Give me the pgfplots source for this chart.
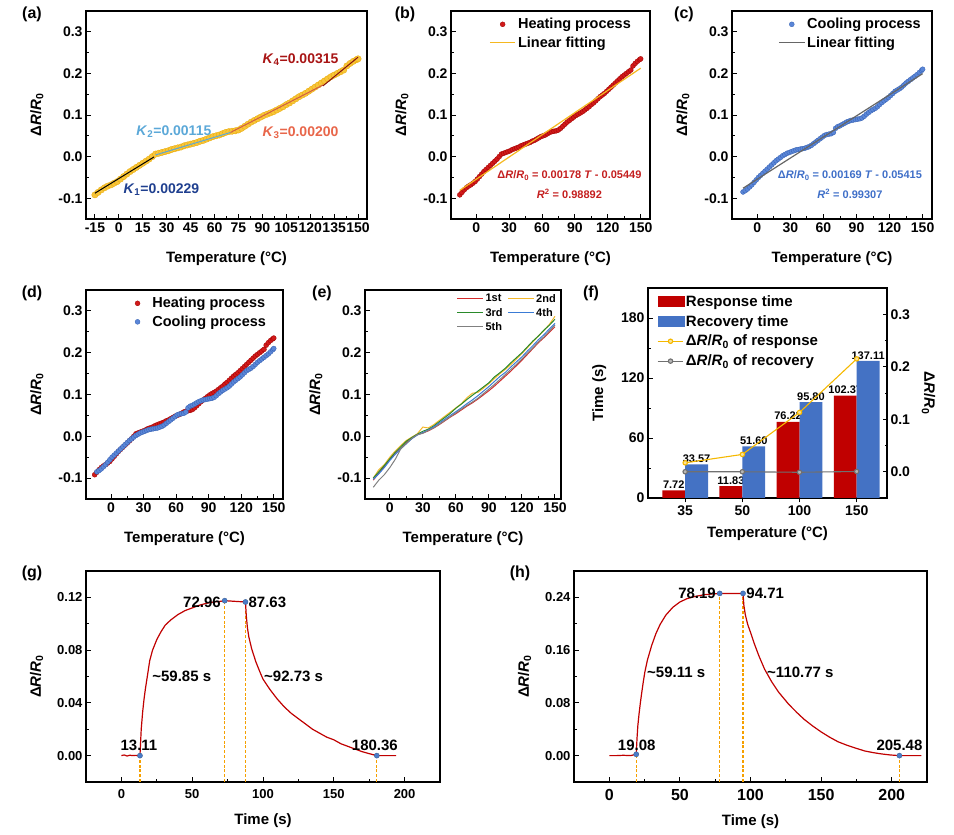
\documentclass[border=0pt]{standalone}
\usepackage{fontspec}
\setmainfont{Liberation Sans}
\usepackage{pgfplots}
\usepackage{pgfplotstable}
\pgfplotsset{compat=1.18}

\definecolor{heatfill}{HTML}{D11A1A}
\definecolor{heatdraw}{HTML}{9E0000}
\definecolor{coolfill}{HTML}{5A86D8}
\definecolor{cooldraw}{HTML}{3560B0}
\definecolor{ayel}{HTML}{F8C53A}
\definecolor{ayeld}{HTML}{E8A800}
\definecolor{fityel}{HTML}{F5B820}
\definecolor{fitgray}{HTML}{666666}
\definecolor{kone}{HTML}{1F3F8F}
\definecolor{ktwo}{HTML}{5BA8D8}
\definecolor{kthree}{HTML}{E8664A}
\definecolor{kfour}{HTML}{A81414}
\definecolor{eqred}{HTML}{C41E1E}
\definecolor{eqblue}{HTML}{3F6FC8}
\definecolor{ered}{HTML}{D42A2A}
\definecolor{eyel}{HTML}{F5B82A}
\definecolor{egreen}{HTML}{2A8A2A}
\definecolor{eblue}{HTML}{3A7BD5}
\definecolor{egray}{HTML}{808080}
\definecolor{barred}{HTML}{C00000}
\definecolor{barblue}{HTML}{4472C4}
\definecolor{fline}{HTML}{F5B800}
\definecolor{fgray}{HTML}{707070}
\definecolor{curve}{HTML}{C00000}
\definecolor{dashor}{HTML}{F5A000}
\definecolor{mblue}{HTML}{4A7CC8}

\pgfplotsset{
 myax/.style={
  scale only axis, anchor=south west,
  clip marker paths=true,
  axis line style={line width=1.1pt},
  tick align=inside, xtick pos=left, ytick pos=left,
  major tick length=4.5pt, minor tick length=2.5pt,
  every tick/.append style={line width=0.9pt, black},
  minor x tick num=1, minor y tick num=1,
  tick label style={font=\fontsize{14}{14}\selectfont},
  label style={font=\fontsize{15}{15}\selectfont},
  xlabel style={yshift=-12pt},
  ylabel style={yshift=8pt},
  /pgf/number format/assume math mode=true,
  legend style={draw=none, fill=none, font=\fontsize{14.5}{17}\selectfont, /tikz/row sep=2.5pt},
  legend cell align=left,
  legend image code/.code={\draw[mark repeat=2,mark phase=2,##1] plot coordinates {(0cm,0cm) (0.45cm,0cm) (0.9cm,0cm)};},
 },
 tempax/.style={
  xmin=-23, xmax=158.5, ymin=-0.15, ymax=0.35,
  xtick={0,30,...,150}, ytick={-0.1,0,0.1,0.2,0.3},
  yticklabel style={/pgf/number format/.cd,fixed,fixed zerofill,precision=1},
  xlabel={Temperature (°C)},
  ylabel={Δ\textit{R}/\textit{R}\textsubscript{0}},
 },
 heatmarks/.style={only marks, mark=*, mark size=2.5pt, mark options={fill=heatfill, draw=heatdraw, line width=0.3pt},
   legend image code/.code={\path[draw=none,fill=none] (0cm,0cm) rectangle (0.9cm,0.01cm); \draw[mark repeat=2,mark phase=2,##1] plot coordinates {(0cm,0cm) (0.45cm,0cm) (0.9cm,0cm)};}},
 coolmarks/.style={only marks, mark=*, mark size=2.5pt, mark options={fill=coolfill, draw=cooldraw, line width=0.3pt},
   legend image code/.code={\path[draw=none,fill=none] (0cm,0cm) rectangle (0.9cm,0.01cm); \draw[mark repeat=2,mark phase=2,##1] plot coordinates {(0cm,0cm) (0.45cm,0cm) (0.9cm,0cm)};}},
 dashv/.style={dashor, dash pattern=on 3pt off 1.8pt, line width=1.25pt},
}

\pgfplotstableread{
T y
-15 -0.092
-13 -0.086
-11 -0.080
-9 -0.075
-7 -0.071
-5 -0.068
-3 -0.064
-1 -0.060
1 -0.054
3 -0.048
5 -0.042
7 -0.036
9 -0.031
11 -0.026
13 -0.021
15 -0.016
17 -0.011
19 -0.006
21 0.000
23 0.006
25 0.008
27 0.010
29 0.012
31 0.014
33 0.017
35 0.019
37 0.021
39 0.023
41 0.026
43 0.028
45 0.030
47 0.032
49 0.034
51 0.037
53 0.039
55 0.042
57 0.045
59 0.048
61 0.050
63 0.052
65 0.055
67 0.058
69 0.060
71 0.061
73 0.062
75 0.064
77 0.068
79 0.073
81 0.078
83 0.083
85 0.087
87 0.091
89 0.095
91 0.099
93 0.102
95 0.105
97 0.108
99 0.112
101 0.116
103 0.120
105 0.125
107 0.129
109 0.134
111 0.139
113 0.144
115 0.148
117 0.152
119 0.157
121 0.162
123 0.167
125 0.172
127 0.177
129 0.182
131 0.187
133 0.192
135 0.196
137 0.200
139 0.204
141 0.208
143 0.218
145 0.224
147 0.229
149 0.233
150 0.235
}\heating

\pgfplotstableread{
T y
-13 -0.085
-11 -0.082
-9 -0.078
-7 -0.073
-5 -0.068
-3 -0.062
-1 -0.056
1 -0.050
3 -0.045
5 -0.040
7 -0.035
9 -0.030
11 -0.025
13 -0.020
15 -0.015
17 -0.010
19 -0.006
21 -0.002
23 0.002
25 0.005
27 0.008
29 0.010
31 0.012
33 0.014
35 0.016
37 0.017
39 0.018
41 0.019
43 0.020
45 0.022
47 0.024
49 0.027
51 0.031
53 0.035
55 0.039
57 0.043
59 0.047
61 0.051
63 0.053
65 0.054
67 0.055
69 0.058
71 0.068
73 0.072
75 0.074
77 0.077
79 0.080
81 0.083
83 0.085
85 0.087
87 0.088
89 0.089
91 0.090
93 0.091
95 0.093
97 0.097
99 0.102
101 0.106
103 0.110
105 0.113
107 0.116
109 0.120
111 0.125
113 0.130
115 0.134
117 0.138
119 0.142
121 0.147
123 0.152
125 0.157
127 0.160
129 0.163
131 0.167
133 0.172
135 0.177
137 0.181
139 0.185
141 0.189
143 0.193
145 0.197
147 0.202
149 0.207
150 0.210
}\cooling

\pgfplotstableread{
T r y g b k
-15 -0.105 -0.100 -0.100 -0.103 -0.122
-10 -0.088 -0.080 -0.085 -0.090 -0.105
-5 -0.072 -0.068 -0.070 -0.075 -0.092
0 -0.055 -0.050 -0.054 -0.058 -0.075
5 -0.040 -0.035 -0.038 -0.043 -0.055
10 -0.028 -0.022 -0.025 -0.030 -0.030
15 -0.015 -0.010 -0.012 -0.018 -0.017
20 -0.005 -0.002 -0.003 -0.006 -0.005
25 0.004 0.006 0.005 0.003 0.004
30 0.008 0.022 0.012 0.009 0.007
35 0.013 0.020 0.017 0.015 0.014
40 0.020 0.028 0.025 0.023 0.020
45 0.028 0.038 0.035 0.032 0.029
50 0.037 0.048 0.045 0.041 0.038
55 0.046 0.058 0.055 0.050 0.047
60 0.054 0.068 0.067 0.059 0.056
65 0.063 0.078 0.077 0.068 0.065
70 0.072 0.092 0.088 0.078 0.074
75 0.080 0.103 0.098 0.087 0.082
80 0.089 0.105 0.108 0.097 0.091
85 0.099 0.115 0.118 0.108 0.102
90 0.109 0.126 0.128 0.119 0.113
95 0.120 0.138 0.142 0.131 0.124
100 0.132 0.150 0.152 0.143 0.136
105 0.144 0.160 0.163 0.153 0.148
110 0.156 0.172 0.176 0.166 0.160
115 0.169 0.185 0.188 0.178 0.172
120 0.182 0.198 0.200 0.190 0.185
125 0.196 0.212 0.214 0.204 0.199
130 0.210 0.226 0.228 0.217 0.212
135 0.224 0.240 0.240 0.231 0.226
140 0.236 0.253 0.254 0.243 0.238
145 0.249 0.268 0.266 0.257 0.252
150 0.262 0.287 0.280 0.270 0.266
}\cycles

\begin{document}
\bfseries
\begin{tikzpicture}
\path[use as bounding box] (0pt,0pt) rectangle (954pt,835pt);

% panel labels
\begin{scope}[every node/.style={font=\fontsize{16}{16}\selectfont}]
\node at (32pt,821pt) {(a)};
\node at (405pt,821pt) {(b)};
\node at (684pt,821pt) {(c)};
\node at (32pt,542pt) {(d)};
\node at (322pt,542pt) {(e)};
\node at (591pt,542pt) {(f)};
\node at (32pt,262pt) {(g)};
\node at (520pt,262pt) {(h)};
\end{scope}

% (a)
\begin{axis}[myax, tempax, at={(86pt,616pt)}, width=281pt, height=208pt,
  xmin=-20.6, xmax=155.6, xtick={-15,0,15,...,150}]
\addplot[only marks, mark=*, mark size=3.2pt, mark options={fill=ayel, draw=ayeld, line width=0.3pt}] table[x=T,y=y] {\heating};
\addplot[black, line width=1pt] coordinates {(-15,-0.088) (22,-0.001)};
\addplot[ktwo, line width=1pt] coordinates {(23,0.004) (70,0.058)};
\addplot[kthree!90!black, line width=1pt] coordinates {(70,0.058) (128,0.172)};
\addplot[kfour!80!black, line width=1pt] coordinates {(128,0.170) (150,0.239)};
\node[anchor=west, text=kone, font=\fontsize{14}{14}\selectfont] at (axis cs:0.7,-0.08) {\textit{K}\textsubscript{1}=0.00229};
\node[anchor=west, text=ktwo, font=\fontsize{14}{14}\selectfont] at (axis cs:8.8,0.060) {\textit{K}\textsubscript{2}=0.00115};
\node[anchor=west, text=kthree, font=\fontsize{14}{14}\selectfont] at (axis cs:88,0.058) {\textit{K}\textsubscript{3}=0.00200};
\node[anchor=west, text=kfour, font=\fontsize{14}{14}\selectfont] at (axis cs:88,0.234) {\textit{K}\textsubscript{4}=0.00315};
\end{axis}

% (b)
\begin{axis}[myax, tempax, at={(451pt,616pt)}, width=199pt, height=208pt,
  legend style={at={(0.93,0.985)}, anchor=north east}]
\addplot[heatmarks] table[x=T,y=y] {\heating};
\addplot[fityel, line width=1.2pt] coordinates {(-15,-0.08119) (150,0.21251)};
\legend{Heating process, Linear fitting}
\node[text=eqred, font=\fontsize{11}{11}\selectfont] at (axis cs:85,-0.046) {Δ\textit{R}/\textit{R}\textsubscript{0} = 0.00178 \textit{T} - 0.05449};
\node[text=eqred, font=\fontsize{11}{11}\selectfont] at (axis cs:85,-0.089) {\textit{R}\textsuperscript{2} = 0.98892};
\end{axis}

% (c)
\begin{axis}[myax, tempax, at={(732pt,616pt)}, width=200pt, height=208pt,
  legend style={at={(0.97,0.985)}, anchor=north east}]
\addplot[coolmarks] table[x=T,y=y] {\cooling};
\addplot[fitgray, line width=1.2pt] coordinates {(-13,-0.07612) (150,0.19935)};
\legend{Cooling process, Linear fitting}
\node[text=eqblue, font=\fontsize{11}{11}\selectfont] at (axis cs:84,-0.046) {Δ\textit{R}/\textit{R}\textsubscript{0} = 0.00169 \textit{T} - 0.05415};
\node[text=eqblue, font=\fontsize{11}{11}\selectfont] at (axis cs:84,-0.089) {\textit{R}\textsuperscript{2} = 0.99307};
\end{axis}

% (d)
\begin{axis}[myax, tempax, at={(86pt,336pt)}, width=197pt, height=209pt,
  legend style={at={(0.94,0.985)}, anchor=north east}]
\addplot[heatmarks] table[x=T,y=y] {\heating};
\addplot[coolmarks] table[x=T,y=y] {\cooling};
\legend{Heating process, Cooling process}
\end{axis}

% (e)
\begin{axis}[myax, tempax, at={(365pt,336pt)}, width=196pt, height=209pt,
  xmin=-22.5, xmax=155.5,
  legend columns=2,
  legend style={at={(1,1)}, anchor=north east, font=\fontsize{11}{13}\selectfont, /tikz/row sep=0.5pt,
    /tikz/every even column/.append style={column sep=3pt}}]
\addplot[ered, line width=1pt] table[x=T,y=r] {\cycles};
\addplot[eyel, line width=1pt] table[x=T,y=y] {\cycles};
\addplot[egreen, line width=1pt] table[x=T,y=g] {\cycles};
\addplot[eblue, line width=1pt] table[x=T,y=b] {\cycles};
\addplot[egray, line width=1pt] table[x=T,y=k] {\cycles};
\legend{1st, 2nd, 3rd, 4th, 5th}
\end{axis}

% (f) left axis with bars
\begin{axis}[myax, at={(648pt,337pt)}, width=239pt, height=210pt,
  xmin=-0.65, xmax=3.53, ymin=0, ymax=210,
  xtick={0,1,2,3}, xticklabels={35,50,100,150}, minor x tick num=0,
  ytick={0,60,120,180},
  ybar=0pt, bar width=0.4,
  xlabel={Temperature (°C)}, ylabel={Time (s)},
  xlabel style={yshift=8pt},
  nodes near coords={\pgfmathprintnumber[fixed,fixed zerofill,precision=2,assume math mode=true]{\pgfplotspointmeta}},
  every node near coord/.append style={font=\fontsize{11}{11}\selectfont, inner sep=1.5pt}]
\addplot[fill=barred, draw=none] coordinates {(0,7.72) (1,11.83) (2,76.22) (3,102.37)};
\addplot[fill=barblue, draw=none] coordinates {(0,33.57) (1,51.60) (2,95.80) (3,137.11)};
\end{axis}

% (f) right axis with lines
\begin{axis}[myax, at={(648pt,337pt)}, width=239pt, height=210pt,
  xmin=-0.65, xmax=3.53, ymin=-0.05, ymax=0.35,
  axis x line=none, axis y line*=right, ytick pos=right,
  ytick={0,0.1,0.2,0.3},
  yticklabel style={/pgf/number format/.cd,fixed,fixed zerofill,precision=1},
  ylabel={Δ\textit{R}/\textit{R}\textsubscript{0}},
  ylabel style={rotate=180, yshift=13pt},
  legend style={at={(0.025,0.985)}, anchor=north west, font=\fontsize{15}{17}\selectfont, /tikz/row sep=3.5pt}]
\addlegendimage{legend image code/.code={\fill[barred] (0pt,-5pt) rectangle (26pt,5pt);}}
\addlegendimage{legend image code/.code={\fill[barblue] (0pt,-5pt) rectangle (26pt,5pt);}}
\addplot[fline, line width=1.1pt, mark=*, mark size=2.2pt, mark options={fill=white!60!fline, draw=fline}] coordinates {(0,0.017) (1,0.033) (2,0.113) (3,0.215)};
\addplot[fgray, line width=1.1pt, mark=*, mark size=2.2pt, mark options={fill=white!50!fgray, draw=fgray}] coordinates {(0,0.0) (1,0.0) (2,-0.001) (3,0.0005)};
\legend{Response time, Recovery time, Δ\textit{R}/\textit{R}\textsubscript{0} of response, Δ\textit{R}/\textit{R}\textsubscript{0} of recovery}
\end{axis}

% (g)
\begin{axis}[myax, at={(86pt,53pt)}, width=354pt, height=211pt,
  xmin=-25, xmax=225, ymin=-0.02, ymax=0.14,
  xtick={0,50,...,200}, ytick={0,0.04,0.08,0.12},
  tick label style={font=\fontsize{13}{13}\selectfont},
  xticklabel style={yshift=-4pt},
  xlabel style={yshift=4pt},
  ylabel style={yshift=-1pt},
  yticklabel style={/pgf/number format/.cd,fixed,fixed zerofill,precision=2},
  xlabel={Time (s)},
  ylabel={Δ\textit{R}/\textit{R}\textsubscript{0}}]
\addplot[dashv] coordinates {(13.11,-0.02) (13.11,0)};
\addplot[dashv] coordinates {(72.96,-0.02) (72.96,0.1175)};
\addplot[dashv] coordinates {(87.63,-0.02) (87.63,0.1165)};
\addplot[dashv] coordinates {(180.36,-0.02) (180.36,0)};
\addplot[curve, line width=1.2pt] coordinates {
(0,0) (2,0.0005) (4,-0.0003) (6,0.0003) (8,0) (10,0.0002) (12,0) (13.11,0)
(14,0.02) (15,0.033) (16,0.043) (17,0.051) (18.3,0.060) (20,0.072) (22,0.080)
(25,0.088) (28,0.094) (31,0.099) (35,0.103) (40,0.107) (45,0.110) (50,0.112)
(55,0.114) (60,0.1155) (65,0.1165) (70,0.117) (72.96,0.1175) (80,0.117) (87.63,0.1165)
(88.2,0.106) (89,0.097) (90,0.090) (92,0.081) (95,0.071) (98,0.063) (100,0.058)
(105,0.050) (110,0.043) (115,0.037) (120,0.032) (125,0.028) (130,0.024) (135,0.020)
(140,0.017) (145,0.014) (150,0.012) (155,0.009) (160,0.007) (165,0.005) (170,0.003)
(175,0.0015) (180.36,0) (185,0) (190,0) (194,0)};
\addplot[only marks, mark=*, mark size=2.6pt, mark options={fill=mblue, draw=mblue!70!black, line width=0.3pt}] coordinates {(13.11,0) (72.96,0.1175) (87.63,0.1165) (180.36,0)};
\begin{scope}[every node/.style={font=\fontsize{15}{15}\selectfont, inner sep=1pt}]
\node[anchor=south] at (axis cs:12.4,0.0025) {13.11};
\node[anchor=east] at (axis cs:71,0.1165) {72.96};
\node[anchor=west] at (axis cs:89,0.1165) {87.63};
\node[anchor=west] at (axis cs:21,0.060) {\textasciitilde59.85 s};
\node[anchor=west] at (axis cs:100,0.060) {\textasciitilde92.73 s};
\node[anchor=south] at (axis cs:179,0.0025) {180.36};
\end{scope}
\end{axis}

% (h)
\begin{axis}[myax, at={(574pt,53pt)}, width=353pt, height=211pt,
  xmin=-25, xmax=225, ymin=-0.04, ymax=0.28,
  xtick={0,50,...,200}, ytick={0,0.08,0.16,0.24},
  xticklabel style={font=\fontsize{16}{16}\selectfont, yshift=-4pt},
  yticklabel style={font=\fontsize{13}{13}\selectfont,/pgf/number format/.cd,fixed,fixed zerofill,precision=2},
  xlabel style={yshift=5pt},
  ylabel style={yshift=-1pt},
  xlabel={Time (s)},
  ylabel={Δ\textit{R}/\textit{R}\textsubscript{0}}]
\addplot[dashv] coordinates {(19.08,-0.04) (19.08,0.002)};
\addplot[dashv] coordinates {(78.19,-0.04) (78.19,0.246)};
\addplot[dashv] coordinates {(94.71,-0.04) (94.71,0.246)};
\addplot[dashv] coordinates {(205.48,-0.04) (205.48,0)};
\addplot[curve, line width=1.2pt] coordinates {
(0,0) (5,0) (10,0.0005) (15,0) (19.08,0.002) (19.6,0.025) (20.2,0.045) (21,0.062)
(22,0.080) (23,0.096) (24,0.111) (25.2,0.127) (27,0.145) (30,0.167) (33,0.185)
(36,0.199) (40,0.213) (45,0.225) (50,0.233) (55,0.238) (60,0.241) (67,0.244)
(72,0.245) (78.19,0.246) (85,0.246) (94.71,0.246) (95.3,0.228) (96.3,0.214)
(98,0.199) (100,0.187) (103,0.168) (106,0.151) (110,0.131) (115,0.112) (120,0.096)
(127,0.078) (133,0.065) (138,0.055) (144,0.045) (150,0.036) (156,0.028) (162,0.021)
(168,0.016) (175,0.011) (181,0.007) (187,0.0045) (193,0.0025) (199,0.001)
(205.48,0) (212,0) (221,0)};
\addplot[only marks, mark=*, mark size=2.6pt, mark options={fill=mblue, draw=mblue!70!black, line width=0.3pt}] coordinates {(19.08,0.002) (78.19,0.246) (94.71,0.246) (205.48,0)};
\begin{scope}[every node/.style={font=\fontsize{15}{15}\selectfont, inner sep=1pt}]
\node[anchor=south] at (axis cs:19.4,0.006) {19.08};
\node[anchor=east] at (axis cs:76.3,0.246) {78.19};
\node[anchor=west] at (axis cs:96.3,0.246) {94.71};
\node[anchor=west] at (axis cs:26,0.127) {\textasciitilde59.11 s};
\node[anchor=west] at (axis cs:111,0.127) {\textasciitilde110.77 s};
\node[anchor=south] at (axis cs:205.48,0.006) {205.48};
\end{scope}
\end{axis}
\end{tikzpicture}
\end{document}
